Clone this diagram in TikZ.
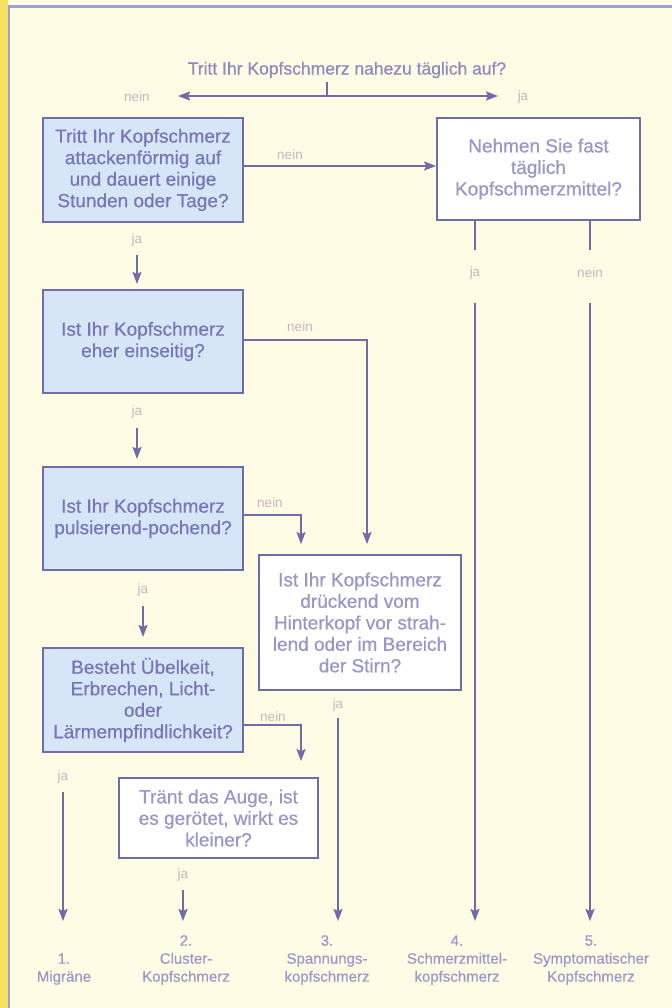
\documentclass[tikz,border=0pt]{standalone}
\usepackage{fontspec}
\setmainfont{Liberation Sans}
\newfontfamily\boxfont[FakeBold=0.6]{Liberation Sans}
\usetikzlibrary{arrows.meta}
\definecolor{bgc}{HTML}{FEFCE4}
\definecolor{stripc}{HTML}{F6E25E}
\definecolor{framec}{HTML}{A4A0CE}
\definecolor{linec}{HTML}{6F6CA8}
\definecolor{bluefill}{HTML}{D7E6F6}
\definecolor{bluetext}{HTML}{7876B6}
\definecolor{whitetext}{HTML}{9996C8}
\definecolor{toptext}{HTML}{8D8AC0}
\definecolor{labc}{HTML}{CBB3C0}
\definecolor{rescol}{HTML}{9C99CA}
\tikzset{
  ln/.style={draw=linec, line width=1.8bp},
  arr/.style={ln, -{Stealth[length=12bp,width=9bp,inset=2bp]}},
  bluebox/.style={draw=linec, line width=1.8bp, fill=bluefill, text=bluetext, align=center,
    font=\boxfont\fontsize{19bp}{21.5bp}\selectfont, inner sep=0pt},
  whitebox/.style={draw=linec, line width=1.8bp, fill=white, text=whitetext, align=center,
    font=\boxfont\fontsize{19bp}{21.5bp}\selectfont, inner sep=0pt},
  lab/.style={text=labc, font=\fontsize{13.5bp}{15bp}\selectfont, inner sep=0pt},
  res/.style={text=rescol, align=center, anchor=south, font=\boxfont\fontsize{15bp}{18bp}\selectfont, inner sep=0pt},
}
\begin{document}
\begin{tikzpicture}[x=1bp, y=-1bp]
\useasboundingbox (0,0) rectangle (672,1008);
\fill[bgc] (0,0) rectangle (672,1008);
\fill[stripc] (0,0) rectangle (7.5,1008);
\draw[framec, line width=2.5bp] (9,1008) -- (9,6.5) -- (672,6.5);

% top question
\node[text=toptext, font=\boxfont\fontsize{17.5bp}{20bp}\selectfont, inner sep=0pt] (q0) at (347,70) {Tritt Ihr Kopfschmerz nahezu täglich auf?};
\coordinate (j0top) at (327,82);
\coordinate (j0) at (327,96);
\coordinate (l0) at (178,96);
\coordinate (r0) at (498,96);
\draw[ln] (j0top) -- (j0);
\draw[arr] (j0) -- (l0);
\draw[arr] (j0) -- (r0);
\node[lab] (n0) at (137,97) {nein};
\node[lab] (y0) at (523,97) {ja};

% boxes
\node[bluebox, minimum width=200bp, minimum height=104bp] (b1) at (143,170)
  {Tritt Ihr Kopfschmerz\\attackenförmig auf\\und dauert einige\\Stunden oder Tage?};
\node[whitebox, minimum width=203bp, minimum height=102bp] (w1) at (538.5,169)
  {Nehmen Sie fast\\täglich\\Kopfschmerzmittel?};
\node[bluebox, minimum width=200bp, minimum height=103bp] (b2) at (143,341.5)
  {Ist Ihr Kopfschmerz\\eher einseitig?};
\node[bluebox, minimum width=200bp, minimum height=103bp] (b3) at (143,518.5)
  {Ist Ihr Kopfschmerz\\pulsierend-pochend?};
\node[whitebox, minimum width=202bp, minimum height=135bp] (w2) at (360,622.5)
  {Ist Ihr Kopfschmerz\\drückend vom\\Hinterkopf vor strah-\\lend oder im Bereich\\der Stirn?};
\node[bluebox, minimum width=200bp, minimum height=104bp] (b4) at (143,700)
  {Besteht Übelkeit,\\Erbrechen, Licht-\\oder\\Lärmempfindlichkeit?};
\node[whitebox, minimum width=199bp, minimum height=80bp] (w3) at (218.5,818)
  {Tränt das Auge, ist\\es gerötet, wirkt es\\kleiner?};

% results
\node[res] (r1) at (64,985) {1.\\Migräne};
\node[res] (r2) at (186,985) {2.\\Cluster-\\Kopfschmerz};
\node[res] (r3) at (327,985) {3.\\Spannungs-\\kopfschmerz};
\node[res] (r4) at (457,985) {4.\\Schmerzmittel-\\kopfschmerz};
\node[res] (r5) at (591,985) {5.\\Symptomatischer\\Kopfschmerz};

% box1 -> w1
\draw[arr] ([yshift=4bp]b1.east) -- ([yshift=4bp]b1.east -| w1.west);
\node[lab] (n1) at (290,155) {nein};

% box1 -> box2
\node[lab] (y1) at (137,240) {ja};
\coordinate (a1s) at (137,255);
\coordinate (a1e) at (137,284);
\draw[arr] (a1s) -- (a1e);

% w1 -> results 4 and 5
\node[lab] (y4) at (475,273) {ja};
\node[lab] (n5) at (590,273) {nein};
\coordinate (c4a) at (475,250);
\coordinate (c5a) at (590,250);
\coordinate (c4b) at (475,303);
\coordinate (c5b) at (590,303);
\coordinate (t4) at (475,921);
\coordinate (t5) at (590,921);
\draw[ln] (w1.south -| c4a) -- (c4a);
\draw[ln] (w1.south -| c5a) -- (c5a);
\draw[arr] (c4b) -- (t4);
\draw[arr] (c5b) -- (t5);

% box2 -> w2
\node[lab] (n2) at (300,327) {nein};
\draw[arr, shorten >=10bp] ([yshift=1.5bp]b2.east) -| ([xshift=7bp]w2.north);

% box2 -> box3
\node[lab] (y2) at (137,412) {ja};
\coordinate (a2s) at (137,428);
\coordinate (a2e) at (137,459);
\draw[arr] (a2s) -- (a2e);

% box3 -> w2
\node[lab] (n3) at (270,503) {nein};
\draw[arr, shorten >=10bp] ([yshift=3.5bp]b3.east) -| ([xshift=-59bp]w2.north);

% box3 -> box4
\node[lab] (y3) at (143,590) {ja};
\coordinate (a3s) at (143,606);
\coordinate (a3e) at (143,637);
\draw[arr] (a3s) -- (a3e);

% w2 -> result 3
\node[lab] (y5) at (338,705) {ja};
\coordinate (c3b) at (338,718);
\coordinate (t3) at (338,921);
\draw[arr] (c3b) -- (t3);

% box4 -> w3
\node[lab] (n4) at (273,717) {nein};
\draw[arr, shorten >=16bp] ([yshift=-25bp]b4.east) -| ([xshift=82.5bp]w3.north);

% box4 -> result 1
\node[lab] (y6) at (63,777) {ja};
\coordinate (c1b) at (63,792);
\coordinate (t1) at (63,921);
\draw[arr] (c1b) -- (t1);

% w3 -> result 2
\node[lab] (y7) at (183,875) {ja};
\coordinate (c2b) at (183,890);
\coordinate (t2) at (183,921);
\draw[arr] (c2b) -- (t2);
\end{tikzpicture}
\end{document}
